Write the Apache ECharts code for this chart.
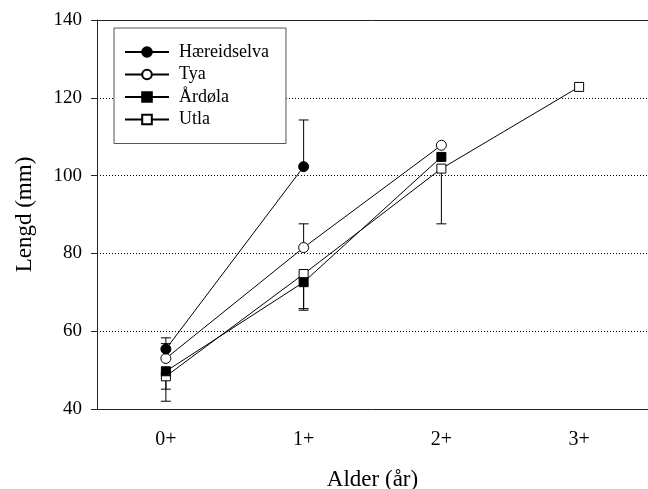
<!DOCTYPE html>
<html>
<head>
<meta charset="utf-8">
<script src="https://cdn.jsdelivr.net/npm/echarts@6/dist/echarts.min.js"></script>
<style>
  html, body { margin: 0; padding: 0; background: #fff; }
  #main { width: 648px; height: 489px; }
</style>
</head>
<body>
<div id="main"></div>
<script>
// aldersgrupper
var categories = ['0+', '1+', '2+', '3+'];
var yTicks = [40, 60, 80, 100, 120, 140];

// gjennomsnittleg lengd per elv
var haereidselva = [55.4, 102.3];
var tya = [53.0, 81.5, 107.8];
var ardola = [49.7, 72.6, 104.8];
var utla = [48.4, 74.7, 101.8, 122.8];

// ende på feilstolpane (null = ingen)
var haereidselvaErr = [58.3, 114.3, null, null];
var tyaErr = [56.8, 87.6, null, null];
var ardolaErr = [45.1, 65.4, null, null];
var utlaErr = [42.0, 65.8, 87.6, null];

var font = 'Liberation Serif, Times New Roman, serif';

var myChart = echarts.init(document.getElementById('main'));

// feilstolpar: [x, gjennomsnitt, ende]
var errData = [];
[[haereidselva, haereidselvaErr], [tya, tyaErr], [ardola, ardolaErr], [utla, utlaErr]].forEach(function (p) {
  p[1].forEach(function (e, i) {
    if (e != null && p[0][i] != null) errData.push([i, p[0][i], e]);
  });
});

function lineSeries(name, data, symbol, size, fill, z) {
  return {
    name: name,
    type: 'line',
    data: data,
    symbol: symbol,
    symbolSize: size,
    showAllSymbol: true,
    z: z,
    lineStyle: { color: '#000', width: 1 },
    itemStyle: { color: fill, borderColor: '#000', borderWidth: 1 },
    emphasis: { disabled: true }
  };
}

var option = {
  animation: false,
  backgroundColor: '#fff',
  textStyle: { fontFamily: font, color: '#000' },
  grid: { left: 97, right: 0, top: 20, bottom: 80, containLabel: false, outerBoundsMode: 'none' },
  legend: {
    data: ['Hæreidselva', 'Tya', 'Årdøla', 'Utla'],
    orient: 'vertical',
    left: 114,
    top: 28,
    width: 171,
    padding: [15, 17, 15, 10],
    itemWidth: 44,
    itemHeight: 12,
    itemGap: 4.5,
    borderColor: '#555',
    borderWidth: 1,
    backgroundColor: '#fff',
    selectedMode: false,
    textStyle: { fontFamily: font, fontSize: 18, color: '#000', lineHeight: 18, padding: [0, 0, 0, 5] }
  },
  xAxis: [
    {
      type: 'category',
      data: categories,
      boundaryGap: true,
      name: 'Alder (år)',
      nameLocation: 'middle',
      nameGap: 59,
      nameTextStyle: { fontFamily: font, fontSize: 23, color: '#000' },
      axisLine: { lineStyle: { color: '#222', width: 1 } },
      axisTick: { alignWithLabel: true, length: 6, lineStyle: { color: '#222' } },
      axisLabel: { fontFamily: font, fontSize: 20, color: '#000', margin: 21 },
      splitLine: { show: false }
    },
    {
      type: 'category',
      data: categories,
      position: 'top',
      axisLine: { lineStyle: { color: '#222', width: 1 } },
      axisTick: { show: false },
      axisLabel: { show: false },
      splitLine: { show: false }
    }
  ],
  yAxis: {
    type: 'value',
    min: yTicks[0],
    max: yTicks[yTicks.length - 1],
    interval: 20,
    name: 'Lengd (mm)',
    nameLocation: 'middle',
    nameGap: 61,
    nameTextStyle: { fontFamily: font, fontSize: 23, color: '#000' },
    axisLine: { show: true, lineStyle: { color: '#222', width: 1 } },
    axisTick: { show: true, length: 6, lineStyle: { color: '#222' } },
    axisLabel: { fontFamily: font, fontSize: 19, color: '#000', margin: 15 },
    splitLine: { show: true, lineStyle: { color: '#000', type: [1, 2], width: 1 } }
  },
  series: [
    {
      type: 'custom',
      name: 'err',
      z: 1,
      silent: true,
      data: errData,
      renderItem: function (params, api) {
        var x = api.value(0);
        var a = api.coord([x, api.value(1)]);
        var b = api.coord([x, api.value(2)]);
        var h = 5;
        return {
          type: 'group',
          children: [
            { type: 'line', shape: { x1: a[0], y1: a[1], x2: b[0], y2: b[1] }, style: { stroke: '#000', lineWidth: 1 } },
            { type: 'line', shape: { x1: b[0] - h, y1: b[1], x2: b[0] + h, y2: b[1] }, style: { stroke: '#000', lineWidth: 1 } }
          ]
        };
      }
    },
    lineSeries('Hæreidselva', haereidselva, 'circle', 10, '#000', 5),
    lineSeries('Tya', tya, 'circle', 10, '#fff', 4),
    lineSeries('Årdøla', ardola, 'rect', 9, '#000', 3),
    lineSeries('Utla', utla, 'rect', 9, '#fff', 2)
  ]
};

myChart.setOption(option);
</script>
</body>
</html>
